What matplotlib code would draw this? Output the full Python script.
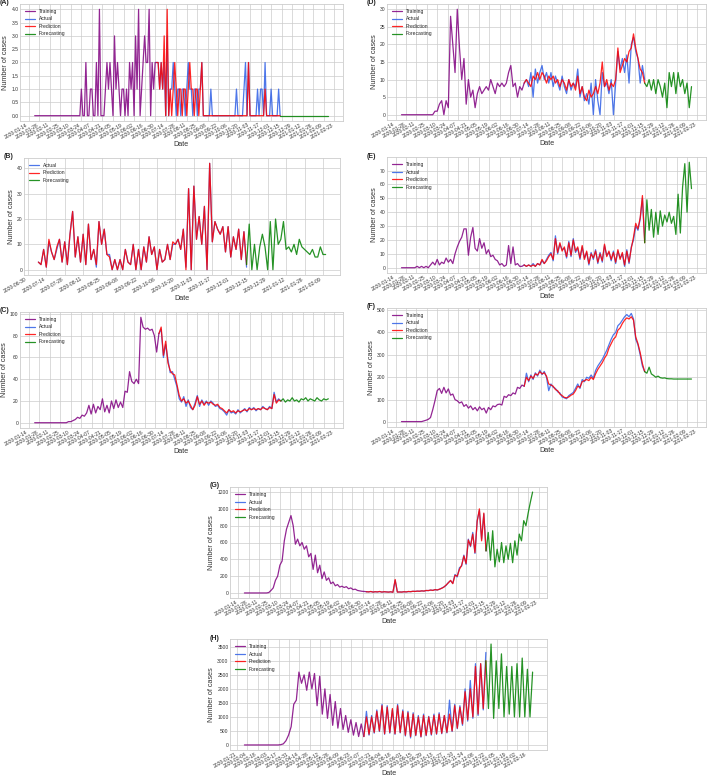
import pandas as pd
import matplotlib
matplotlib.use("Agg")
import matplotlib.pyplot as plt
import matplotlib.dates as mdates
from matplotlib.ticker import MultipleLocator

plt.style.use("seaborn-v0_8-whitegrid")
plt.rcParams["font.family"] = ["Liberation Sans", "DejaVu Sans"]
plt.rcParams["axes.linewidth"] = 0.6
plt.rcParams["grid.linewidth"] = 0.5

# ---------------- data ----------------
# (A) one sample every 2 days
a_start = "2020-01-22"
a_train = [0] * 31 + [
    1, 0, 0, 2, 0, 0, 1, 1, 0, 0, 2, 0, 4, 0, 0, 0, 1, 2, 1, 2, 1, 0, 3, 1, 2,
    1, 0, 1, 1, 0, 1, 0, 2, 1, 2, 0, 3, 1, 4, 0, 1, 2, 3, 2, 2, 4, 0, 2, 1, 2, 2,
]
a_pred = [2, 2, 1, 2, 1, 3, 0, 4, 0, 1, 0, 1, 2, 1, 0, 1, 1, 0, 1, 1, 0, 1, 2, 1,
          1, 0, 1, 1, 0, 1, 2, 0] + [0] * 29 + [2] + [0] * 10 + [1] + [0] * 10
a_actual = [2, 2, 1, 2, 1, 2, 0, 3, 0, 1, 1, 2, 1, 0, 1, 1, 0, 1, 1, 0, 1, 2, 1, 1,
            0, 1, 1, 0, 1, 1, 2, 0,
            0, 0, 0, 0, 1, 0, 0, 0, 0, 0, 0, 0, 0, 0, 0, 0, 0, 0, 0, 0,
            0, 1, 0, 0, 0, 0, 1, 2, 0, 2, 0, 0, 0, 0, 0, 1, 0, 1, 1, 0,
            2, 0, 0, 0, 1, 0, 0, 0, 0, 1, 0]
a_fore = [0] * 33

# (B) one sample every 2 days, no training part
b_start = "2020-07-08"
b_pred = [3, 2, 8, 1, 12, 7, 4, 9, 12, 3, 11, 2, 14, 23, 5, 13, 3, 14, 2, 18,
          4, 8, 2, 19, 10, 16, 6, 5, 0, 4, 0, 4, 0, 8, 3, 2, 10, 0, 8, 0,
          9, 3, 13, 6, 9, 0, 8, 3, 4, 10, 4, 11, 10, 12, 8, 16, 0, 32, 0, 33,
          12, 21, 10, 25, 0, 42, 11, 19, 16, 14, 17, 7, 17, 5, 13, 8, 16, 4, 15, 2]
b_actual = [3, 2, 8, 1, 11, 7, 4, 8, 12, 3, 11, 2, 14, 23, 5, 13, 3, 14, 2, 18,
            4, 8, 1, 19, 10, 16, 6, 6, 0, 4, 0, 4, 0, 8, 3, 2, 10, 0, 8, 0,
            9, 3, 13, 6, 9, 0, 8, 3, 4, 10, 4, 10, 10, 12, 8, 16, 1, 32, 0, 33,
            12, 21, 10, 25, 0, 42, 11, 19, 16, 14, 17, 7, 17, 5, 13, 8, 16, 4, 15, 1]
b_fore = [2, 18, 0, 10, 0, 9, 14, 9, 0, 19, 0, 20, 10, 12, 19, 8, 9, 7, 10, 6,
          12, 9, 8, 7, 6, 8, 5, 5, 9, 6, 6]

# (C)-(G) one sample every 3 days
c_start = "2020-01-22"
c_train = [0] * 14 + [
    0, 1, 1, 2, 3, 5, 4, 7, 6, 9, 16, 8, 17, 9, 15, 12, 22, 10, 16, 9, 20,
    13, 21, 14, 19, 14, 29, 28, 47, 38, 36, 40, 36, 97, 88, 86, 87, 85, 86, 80, 65, 82,
]
c_pred = [82, 88, 62, 75, 55, 48, 45, 44, 35, 25, 20, 22, 18, 20, 16, 12, 16, 24, 17, 20,
          16, 19, 18, 19, 17, 16, 17, 14, 13, 11, 9, 12, 10, 11, 9, 11, 10, 11, 12, 11,
          13, 12, 13, 12, 13, 12, 14, 13, 12, 14, 13, 26, 18, 21, 20]
c_actual = [82, 86, 60, 72, 58, 46, 47, 40, 33, 22, 19, 24, 15, 21, 14, 12, 18, 25, 15, 21,
            17, 20, 16, 20, 18, 15, 16, 13, 12, 10, 7, 12, 9, 10, 8, 12, 9, 11, 13, 10,
            14, 12, 14, 11, 13, 12, 15, 13, 12, 15, 13, 28, 19, 22, 20]
c_fore = [20, 22, 19, 21, 20, 23, 20, 21, 19, 22, 21, 23, 20, 22, 21, 20, 23, 21, 20, 22, 21, 22]

d_start = "2020-01-22"
d_train = [0] * 15 + [
    1, 1, 3, 4, 0, 4, 2, 28, 20, 12, 30, 19, 10, 16, 3, 10, 5, 7, 2, 6,
    8, 6, 7, 8, 7, 10, 8, 6, 9, 8, 9, 8, 9, 12, 14, 8, 9, 5, 8, 7, 9,
]
d_pred = [9, 10, 9, 8, 11, 10, 12, 10, 12, 11, 9, 11, 10, 11, 9, 10, 8, 10, 9, 7,
          10, 8, 9, 7, 11, 6, 8, 5, 4, 7, 5, 6, 8, 6, 9, 15, 8, 10, 7, 9,
          8, 10, 19, 12, 14, 16, 15, 18, 19, 23, 19, 16, 13, 12, 9]
d_actual = [9, 10, 8, 12, 5, 13, 9, 12, 14, 10, 12, 9, 12, 8, 11, 9, 7, 11, 8, 6,
            10, 7, 9, 8, 13, 5, 8, 4, 6, 3, 9, 0, 10, 4, 0, 12, 8, 9, 6, 10,
            0, 9, 18, 13, 16, 12, 17, 9, 20, 22, 18, 16, 9, 14, 10]
d_fore = [9, 8, 10, 7, 10, 6, 10, 8, 5, 9, 2, 12, 8, 12, 6, 12, 8, 10, 6, 9, 2, 8]

e_start = "2020-01-22"
e_train = [0] * 7 + [
    1, 0, 1, 0, 1, 0, 2, 4, 2, 6, 2, 4, 3, 7, 4, 6, 3, 10, 15, 19,
    22, 28, 28, 9, 22, 29, 14, 12, 21, 14, 18, 10, 13, 8, 9, 6, 5, 2, 3, 1,
    2, 16, 3, 15, 2, 3, 1, 1, 2,
]
e_pred = [2, 1, 2, 1, 2, 1, 3, 2, 6, 3, 5, 8, 10, 6, 21, 11, 18, 12, 15, 8,
          18, 9, 20, 12, 15, 7, 16, 6, 12, 3, 10, 7, 12, 4, 10, 5, 17, 8, 12, 6,
          11, 4, 13, 6, 11, 2, 12, 4, 14, 22, 32, 28, 36, 52, 18]
e_actual = [2, 1, 2, 1, 3, 1, 3, 2, 5, 3, 6, 9, 11, 5, 23, 10, 17, 13, 14, 7,
            19, 8, 21, 11, 14, 6, 15, 7, 11, 2, 11, 6, 13, 3, 11, 4, 16, 9, 11, 5,
            12, 3, 12, 7, 10, 1, 13, 3, 15, 20, 30, 27, 35, 50, 20]
e_fore = [18, 49, 27, 42, 22, 40, 24, 41, 30, 38, 33, 40, 32, 37, 24, 53, 25, 58, 75, 40, 76, 57]

f_start = "2020-01-22"
f_train = [2] * 10 + [
    5, 8, 12, 20, 55, 95, 140, 150, 128, 155, 130, 148, 120, 125, 100, 95, 85, 90, 70, 78,
    62, 72, 55, 65, 50, 68, 55, 62, 40, 65, 55, 72, 68, 78, 80, 76, 115, 110, 122, 118,
    130, 125, 155, 150, 165, 160,
]
f_pred = [160, 200, 185, 205, 195, 215, 210, 225, 215, 220, 205, 170, 165, 160, 145,
          140, 125, 118, 110, 108, 112, 120, 125, 140, 160, 155, 180, 185, 190, 185,
          200, 190, 215, 235, 250, 265, 285, 300, 330, 350, 370, 380, 410, 420, 440,
          455, 465, 460, 470, 455, 380, 350, 310, 260, 225]
f_actual = [160, 218, 180, 210, 190, 220, 205, 232, 212, 226, 200, 140, 170, 155, 150,
            135, 130, 112, 108, 104, 118, 125, 132, 150, 170, 150, 190, 180, 200, 195,
            210, 195, 230, 250, 265, 280, 300, 320, 345, 370, 390, 400, 430, 440, 455,
            470, 480, 470, 485, 460, 370, 345, 300, 250, 225]
f_fore = [225, 218, 245, 215, 208, 200, 205, 198, 196, 197, 194, 193, 193, 192, 192,
          192, 192, 192, 192, 192, 192, 192]

g_start = "2020-01-22"
g_train = [0] * 11 + [
    5, 30, 60, 150, 200, 330, 380, 620, 760, 840, 920, 800, 580, 640, 560,
    600, 520, 560, 430, 470, 280, 450, 240, 330, 170, 250, 150, 180, 110, 130,
    85, 100, 70, 80, 65, 75, 50, 60, 40, 45, 30, 25, 20, 18, 15,
]
g_pred = [15, 12, 18, 10, 15, 12, 18, 10, 15, 12, 10, 14, 8, 160, 10, 12, 10, 15, 12, 18,
          15, 20, 18, 22, 20, 25, 22, 30, 28, 35, 30, 40, 35, 45, 55, 70, 95, 120, 150, 110,
          210, 200, 280, 330, 440, 350, 630, 560, 700, 480, 850, 1000, 620, 950, 500]
g_actual = [15, 14, 16, 12, 14, 13, 16, 11, 14, 13, 11, 13, 9, 150, 12, 11, 12, 14, 13, 16,
            16, 19, 19, 21, 21, 24, 23, 28, 29, 33, 32, 38, 36, 44, 58, 72, 90, 125, 145, 115,
            220, 190, 300, 320, 450, 340, 640, 550, 720, 470, 860, 980, 640, 940, 500]
g_fore = [500, 720, 390, 740, 310, 520, 370, 600, 360, 560, 400, 590, 360, 620, 450,
          700, 620, 860, 800, 950, 1080, 1200]

# (H) two samples per week (weekly cycle)
h_start = "2020-01-31"
h_train = [0] * 14 + [
    10, 40, 150, 350, 650, 1450, 1600, 2600, 2200, 2500, 1950, 2600, 2000, 2550, 1400,
    2450, 1100, 2000, 950, 1800, 700, 1550, 600, 1300, 550, 1050, 450, 900, 350, 800,
    300, 750, 300,
]
h_pred = [300, 1000, 380, 1000, 450, 1200, 500, 1400, 400, 1350, 450, 1300, 400, 1400, 450,
          1200, 350, 1150, 300, 1100, 350, 1000, 300, 1050, 350, 1000, 380, 1050, 400, 1100,
          420, 1050, 450, 1100, 500, 1400, 600, 1350, 750, 1900, 900, 2000, 1000, 2800, 1100,
          2900, 1300, 3000]
h_actual = [300, 1200, 350, 1050, 420, 1250, 480, 1450, 380, 1400, 420, 1250, 380, 1450, 430,
            1250, 320, 1200, 250, 1150, 330, 1050, 280, 1100, 330, 1020, 350, 1100, 380, 1150,
            400, 1050, 430, 1600, 480, 1450, 580, 1400, 700, 2000, 850, 2300, 950, 2900, 1050,
            2900, 1250, 3300]
h_fore = [3000, 1300, 3600, 950, 3000, 1300, 3250, 1000, 2800, 1100, 2800, 1000, 2900,
          1000, 3100, 1000, 2700, 1000, 2600]

ticks_main = pd.date_range("2020-01-14", "2021-02-23", freq="14D")
ticks_b = pd.date_range("2020-06-30", "2021-02-09", freq="14D")
ticks_h = pd.date_range("2020-01-21", "2021-02-16", freq="14D")

# ---------------- drawing ----------------
W, H = 709, 778
fig = plt.figure(figsize=(W / 100, H / 100), dpi=100)

line_kw = dict(lw=0.9, alpha=0.85)


def panel(box, tag, start, step, train, actual, pred, fore, ticks, ystep):
    left, right, top, bottom = box
    ax = fig.add_axes([left / W, 1 - bottom / H, (right - left) / W, (bottom - top) / H])
    t0 = pd.Timestamp(start)
    if train is not None:
        x = pd.date_range(t0, periods=len(train), freq=step)
        ax.plot(x, train, color="purple", label="Training", **line_kw)
        t0 = x[-1]
    x = pd.date_range(t0, periods=len(pred), freq=step)
    ax.plot(x, actual, color="#2f5fe6", label="Actual", **line_kw)
    ax.plot(x, pred, color="red", label="Prediction", **line_kw)
    x = pd.date_range(x[-1], periods=len(fore), freq=step)
    ax.plot(x, fore, color="green", label="Forecasting", **line_kw)

    ax.set_xticks(ticks)
    ax.xaxis.set_major_formatter(mdates.DateFormatter("%Y-%m-%d"))
    ax.yaxis.set_major_locator(MultipleLocator(ystep))
    ax.tick_params(axis="both", labelsize=3.6, pad=1, length=0, labelcolor="0.2")
    for lab in ax.get_xticklabels():
        lab.set_rotation(30)
        lab.set_ha("right")
    ax.set_xlabel("Date", fontsize=5.2, labelpad=1.0, color="0.2")
    ax.set_ylabel("Number of cases", fontsize=5.2, labelpad=1.5, color="0.2")
    ax.legend(loc="upper left", fontsize=3.6, frameon=False, borderaxespad=0.6)
    fig.text((left - 20) / W, 1 - (top - 1) / H, tag, fontsize=5, fontweight="bold",
             ha="left", va="center")
    return ax


panel((20, 343, 4, 121), "(A)", a_start, "2D", a_train, a_actual, a_pred, a_fore, ticks_main, 0.5)
panel((24, 340, 158, 275), "(B)", b_start, "2D", None, b_actual, b_pred, b_fore, ticks_b, 10)
panel((20, 343, 312, 428), "(C)", c_start, "3D", c_train, c_actual, c_pred, c_fore, ticks_main, 20)
panel((387, 706, 4, 120), "(D)", d_start, "3D", d_train, d_actual, d_pred, d_fore, ticks_main, 5)
panel((387, 706, 157, 273), "(E)", e_start, "3D", e_train, e_actual, e_pred, e_fore, ticks_main, 10)
panel((387, 706, 308, 427), "(F)", f_start, "3D", f_train, f_actual, f_pred, f_fore, ticks_main, 100)
panel((230, 547, 487, 598), "(G)", g_start, "3D", g_train, g_actual, g_pred, g_fore, ticks_main, 200)
panel((230, 547, 639, 750), "(H)", h_start, "84h", h_train, h_actual, h_pred, h_fore, ticks_h, 500)

fig.savefig("out.png", dpi=100)
